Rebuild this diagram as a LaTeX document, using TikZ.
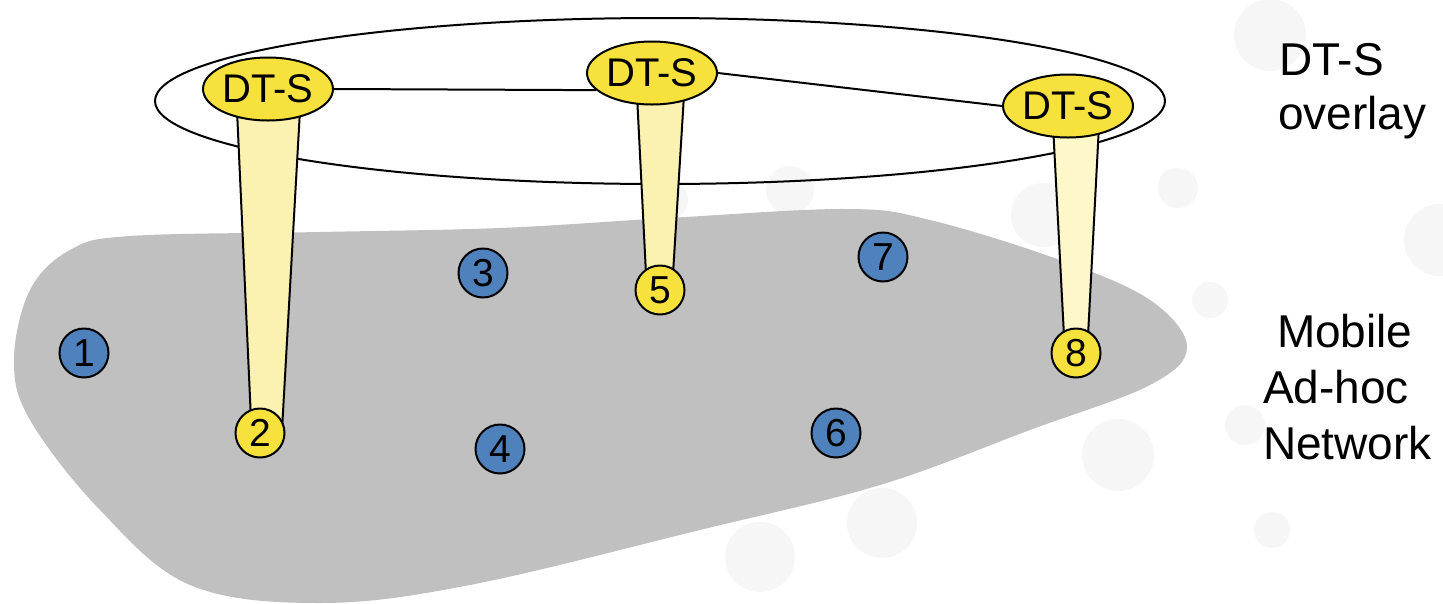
\documentclass[tikz,border=0pt]{standalone}
\usepackage{fontspec}
\setmainfont{Liberation Sans}
\usetikzlibrary{shapes.geometric,backgrounds}
\definecolor{dtyellow}{HTML}{F7E13C}
\definecolor{beamA}{HTML}{FBF2B1}
\definecolor{beamB}{HTML}{FDF7CA}
\definecolor{nodeblue}{HTML}{4F81BD}
\definecolor{blobgray}{HTML}{C0C0C0}
\definecolor{bgdot}{HTML}{F6F6F6}
\begin{document}
\begin{tikzpicture}[x=1pt,y=-1pt,line width=2pt,
  dts/.style={ellipse,draw,line width=2pt,fill=dtyellow,minimum width=130pt,minimum height=63pt,inner sep=0pt,font=\fontsize{40}{40}\selectfont},
  hostbase/.style={circle,draw,line width=2pt,minimum size=49pt,inner sep=0pt,font=\fontsize{39}{39}\selectfont},
  hostblue/.style={hostbase,fill=nodeblue},
  hostyellow/.style={hostbase,fill=dtyellow},
  lbl/.style={anchor=base west,inner sep=0pt,font=\fontsize{46}{46}\selectfont},
  stroke/.style={draw,line width=2pt},
  dot/.style={fill=bgdot}]
\useasboundingbox (0,0) rectangle (1443,603);

% overlay nodes
\node[dts] (d1) at (268,89) {DT-S};
\node[dts] (d2) at (652,73) {DT-S};
\node[dts] (d3) at (1068,106) {DT-S};

% MANET hosts
\node[hostblue]   (n1) at (84,353)  {1};
\node[hostyellow] (n2) at (260,433) {2};
\node[hostblue]   (n3) at (483,273) {3};
\node[hostblue]   (n4) at (500,449) {4};
\node[hostyellow] (n5) at (660,290) {5};
\node[hostblue]   (n6) at (836,433) {6};
\node[hostblue]   (n7) at (883,257) {7};
\node[hostyellow] (n8) at (1076,353) {8};

% labels
\node[lbl] (t1) at (1278,75)  {DT-S};
\node[lbl] (t2) at (1277,129) {overlay};
\node[lbl] (t3) at (1276,347) {Mobile};
\node[lbl] (t4) at (1262,403) {Ad-hoc};
\node[lbl] (t5) at (1262,459) {Network};

\begin{pgfonlayer}{background}
\begin{scope}[line width=2pt]
  % faint background dots
  \foreach \x/\y/\r in {1270/35/36, 1178/188/20, 1440/240/36, 1210/300/18, 1245/425/20,
                        1118/455/36, 1272/530/18, 760/557/35, 882/523/35, 1043/215/32,
                        790/190/24, 668/200/20, 1173/183/14}
    \fill[dot] (\x,\y) circle[radius=\r pt];
  % MANET area
  \fill[blobgray] plot[smooth cycle,tension=0.6] coordinates {
    (14,360) (30,290) (70,250) (130,236) (320,232) (500,228) (668,218) (846,209)
    (930,220) (1060,260) (1150,300) (1187,347) (1150,385)
    (1030,430) (880,485) (700,530) (470,585) (320,603) (190,585) (100,510) (30,420)};
  % overlay ring
  \draw[stroke] (660,101) ellipse [x radius=505pt, y radius=83pt];
  % beams
  \filldraw[stroke,fill=beamA] (237,110) -- (300,110) -- (282,430) -- (251,420) -- cycle;
  \filldraw[stroke,fill=beamA] (637,95) -- (684,95) -- (673,274) -- (646,274) -- cycle;
  \filldraw[stroke,fill=beamB] (1053,125) -- (1099,125) -- (1088,336) -- (1064,336) -- cycle;
  % overlay links
  \draw[stroke] (d1.east) -- (d2.197);
  \draw[stroke] (d2.east) -- (d3.west);
\end{scope}
\end{pgfonlayer}
\end{tikzpicture}
\end{document}
